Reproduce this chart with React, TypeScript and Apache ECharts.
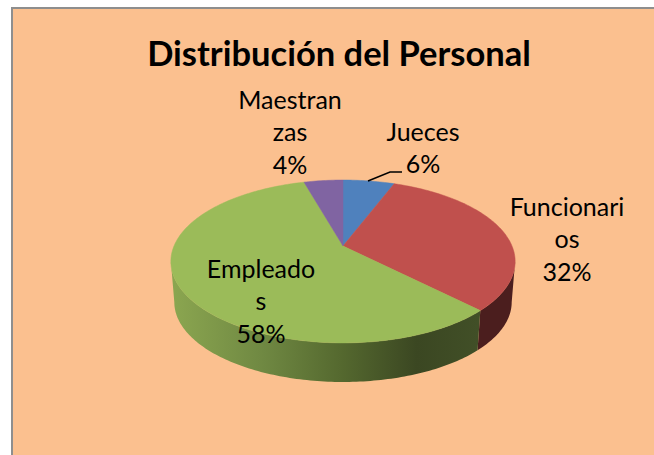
import React, { useEffect, useRef } from "react";
import * as echarts from "echarts";

const titleText = "Distribución del Personal";
const categories = ["Jueces", "Funcionarios", "Empleados", "Maestranzas"];
const wrappedNames = ["Jueces", "Funcionari\nos", "Empleado\ns", "Maestran\nzas"];
const values = [5.8, 31.8, 58, 4.4];
const sliceColors = ["#4f81bd", "#c0504d", "#9bbb59", "#8064a2"];
const labelCenters = [[423, 147], [567, 238], [261, 300], [290, 131]];

const CX = 343, CY = 246, A = 169, B = 78.5, K = 0.19;
const BASE_SCALE = 0.98, BASE_DY = 41;
const SIL = (Math.asin(K) * 180) / Math.PI + 90; // silhouette angle (deg from top)
const total = values.reduce((a, b) => a + b, 0);

function rim(deg: number, scale = 1, dy = 0): number[] {
  const t = (deg * Math.PI) / 180;
  const u = Math.sin(t), v = -Math.cos(t);
  const w = 1 - K * v;
  return [CX + (scale * A * u) / w, CY + dy + (scale * B * v) / w];
}

function arc(a0: number, a1: number, scale = 1, dy = 0): number[][] {
  const n = Math.max(2, Math.ceil(Math.abs(a1 - a0)));
  const pts: number[][] = [];
  for (let i = 0; i <= n; i++) pts.push(rim(a0 + ((a1 - a0) * i) / n, scale, dy));
  return pts;
}

const rows: number[][] = [];
let acc = 0;
values.forEach((v, i) => {
  rows.push([acc, v, i]);
  acc += v;
});

const greenSide = new echarts.graphic.LinearGradient(
  172, 0, 478, 0,
  [
    { offset: 0, color: "#8ba650" },
    { offset: 0.3, color: "#6f8842" },
    { offset: 0.55, color: "#55692f" },
    { offset: 0.8, color: "#3b4722" },
    { offset: 1, color: "#414f27" },
  ],
  true as any
);
const sideFills: Record<number, any> = { 1: "#4b1e1e", 2: greenSide };

function App() {
  const ref = useRef<HTMLDivElement>(null);
  useEffect(() => {
    document.body.style.margin = "0";
    const chart = echarts.init(ref.current!, null, { renderer: "svg" });
    chart.setOption({
      animation: false,
      backgroundColor: "#ffffff",
      graphic: [
        {
          type: "rect",
          z: -10,
          shape: { x: 12, y: 8, width: 700, height: 500 },
          style: { fill: "#fbc08f", stroke: "#8e8e8e", lineWidth: 2 },
        },
        {
          type: "polyline",
          z: 50,
          shape: { points: [[368, 181], [390, 172], [402, 172]] },
          style: { stroke: "#000", lineWidth: 1.5, fill: "none" },
        },
        {
          type: "text",
          z: 50,
          x: 339,
          y: 52.5,
          style: {
            text: titleText,
            font: 'bold 34.5px Lato',
            fill: "#000",
            align: "center",
            verticalAlign: "middle",
          },
        },
      ],
      series: [
        {
          type: "custom",
          coordinateSystem: "none",
          z: 2,
          silent: true,
          data: rows,
          renderItem: (_p: any, api: any) => {
            const i = api.value(2);
            const a0 = (api.value(0) / total) * 360;
            const a1 = a0 + (api.value(1) / total) * 360;
            const from = Math.max(a0, SIL);
            const to = Math.min(a1, 360 - SIL);
            if (to <= from || !sideFills[i]) return null;
            const pts = [...arc(from, to), ...arc(to, from, BASE_SCALE, BASE_DY)];
            return { type: "polygon", shape: { points: pts }, style: { fill: sideFills[i] } };
          },
        },
        {
          type: "custom",
          coordinateSystem: "none",
          z: 3,
          silent: true,
          data: rows,
          renderItem: (_p: any, api: any) => {
            const i = api.value(2);
            const a0 = (api.value(0) / total) * 360;
            const a1 = a0 + (api.value(1) / total) * 360;
            const pts = [[CX, CY], ...arc(a0, a1)];
            return {
              type: "polygon",
              shape: { points: pts },
              style: { fill: sliceColors[i], stroke: sliceColors[i], lineWidth: 0.5 },
            };
          },
        },
        {
          type: "custom",
          coordinateSystem: "none",
          z: 4,
          silent: true,
          data: rows,
          renderItem: (_p: any, api: any) => {
            const i = api.value(2);
            const pct = Math.round((api.value(1) / total) * 100);
            return {
              type: "text",
              x: labelCenters[i][0],
              y: labelCenters[i][1],
              style: {
                text: `${wrappedNames[i]}\n${pct}%`,
                font: "25px Lato",
                lineHeight: 32.5,
                fill: "#000",
                align: "center",
                verticalAlign: "middle",
              },
            };
          },
        },
      ],
    });
    return () => chart.dispose();
  }, []);
  return <div ref={ref} style={{ width: 654, height: 455 }} data-categories={categories.join(",")} />;
}

export default App;
